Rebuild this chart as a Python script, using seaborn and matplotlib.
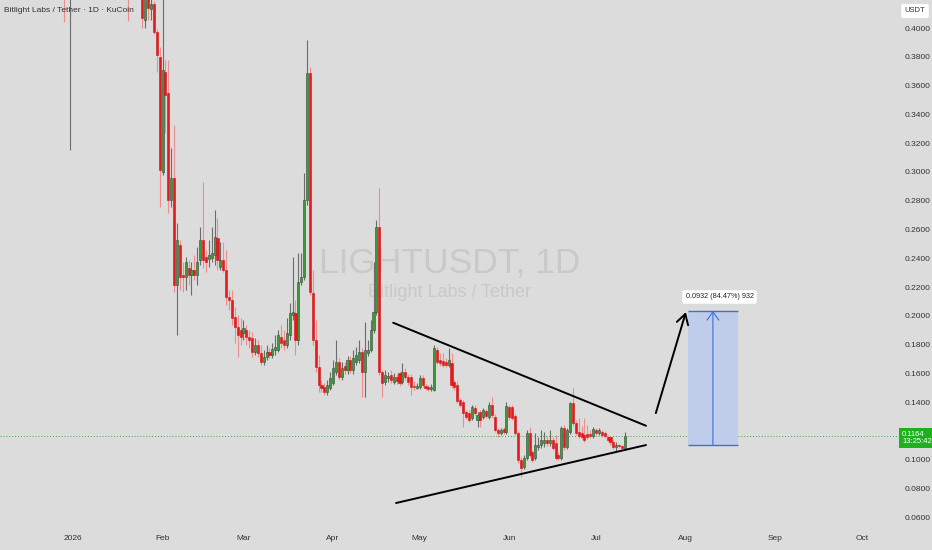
import numpy as np
import pandas as pd
import matplotlib
matplotlib.use("Agg")
import matplotlib.pyplot as plt
import seaborn as sns
from matplotlib.patches import Rectangle

# ── colours ───────────────────────────────────────────────────────────────────
BG = "#dcdcdc"
UP, UP_EDGE, UP_WICK = "#3b9b3b", "#345034", "#6c6c6c"
DN, DN_EDGE, DN_WICK = "#e8191c", "#d21214", "#f08c8c"
BLUE = "#3d6fd8"

# ── data (days counted from 2026-01-01, prices in USDT) ───────────────────────
# a few early candles whose bodies sit above the visible range
early_day = [-3, -1, 19]
early_open = [0.460, 0.430, 0.470]
early_high = [0.480, 0.600, 0.490]
early_low = [0.404, 0.315, 0.405]
early_close = [0.440, 0.470, 0.440]

first_day = 24  # 2026-01-25, daily candles from here on
open_ = [
    0.4400, 0.4056, 0.4280, 0.4132, 0.4167, 0.3973, 0.3799, 0.3000, 0.3695, 0.3549,
    0.2805, 0.2958, 0.2214, 0.2492, 0.2284, 0.2270, 0.2332, 0.2284, 0.2318, 0.2284,
    0.2388, 0.2527, 0.2409, 0.2395, 0.2402, 0.2423, 0.2541, 0.2339, 0.2388, 0.2318,
    0.2131, 0.2110, 0.1992, 0.1922, 0.1902, 0.1881, 0.1902, 0.1853, 0.1846, 0.1749,
    0.1797, 0.1742, 0.1679, 0.1714, 0.1749, 0.1728, 0.1763, 0.1763, 0.1853, 0.1832,
    0.1797, 0.1867, 0.2006, 0.2020, 0.1832, 0.2235, 0.2270, 0.2805, 0.3688, 0.2159,
    0.1832, 0.1644, 0.1520, 0.1506, 0.1471, 0.1499, 0.1533, 0.1610, 0.1679, 0.1575,
    0.1651, 0.1624, 0.1693, 0.1624, 0.1679, 0.1693, 0.1749, 0.1610, 0.1742, 0.1763,
    0.1902, 0.2027, 0.2617, 0.1610, 0.1540, 0.1568, 0.1589, 0.1540, 0.1575, 0.1603,
    0.1540, 0.1610, 0.1575, 0.1575, 0.1513, 0.1499, 0.1506, 0.1568, 0.1513, 0.1506,
    0.1492, 0.1485, 0.1763, 0.1693, 0.1686, 0.1679, 0.1658, 0.1672, 0.1540, 0.1520,
    0.1415, 0.1401, 0.1332, 0.1325, 0.1290, 0.1359, 0.1276, 0.1332, 0.1297, 0.1339,
    0.1297, 0.1380, 0.1297, 0.1206, 0.1186, 0.1213, 0.1193, 0.1366, 0.1366, 0.1304,
    0.1186, 0.0998, 0.0949, 0.1012, 0.1186, 0.1054, 0.1012, 0.1088, 0.1102, 0.1116,
    0.1137, 0.1116, 0.1137, 0.1116, 0.1033, 0.1012, 0.1220, 0.1088, 0.1193, 0.1394,
    0.1255, 0.1193, 0.1186, 0.1172, 0.1179, 0.1179, 0.1165, 0.1206, 0.1186, 0.1193,
    0.1186, 0.1158, 0.1158, 0.1123, 0.1088, 0.1102, 0.1095, 0.1081,
]
high = [
    0.4520, 0.4350, 0.4320, 0.4200, 0.4190, 0.3990, 0.3868, 0.4500, 0.3778, 0.3778,
    0.3166, 0.3326, 0.2645, 0.2527, 0.2374, 0.2409, 0.2388, 0.2374, 0.2423, 0.2478,
    0.2617, 0.2930, 0.2458, 0.2527, 0.2617, 0.2736, 0.2680, 0.2513, 0.2513, 0.2458,
    0.2180, 0.2180, 0.2061, 0.2006, 0.1985, 0.1971, 0.1936, 0.1902, 0.1888, 0.1846,
    0.1832, 0.1797, 0.1763, 0.1797, 0.1776, 0.1811, 0.1867, 0.1902, 0.1936, 0.1902,
    0.1985, 0.2089, 0.2409, 0.2110, 0.2437, 0.2437, 0.2993, 0.3917, 0.3729, 0.2318,
    0.1971, 0.1728, 0.1554, 0.1533, 0.1554, 0.1610, 0.1693, 0.1832, 0.1707, 0.1679,
    0.1679, 0.1721, 0.1721, 0.1763, 0.1783, 0.1832, 0.1776, 0.1957, 0.1832, 0.1971,
    0.2374, 0.2666, 0.2888, 0.1624, 0.1624, 0.1610, 0.1624, 0.1603, 0.1596, 0.1617,
    0.1672, 0.1637, 0.1596, 0.1596, 0.1547, 0.1533, 0.1589, 0.1589, 0.1527, 0.1520,
    0.1527, 0.1797, 0.1783, 0.1742, 0.1742, 0.1707, 0.1776, 0.1742, 0.1554, 0.1547,
    0.1429, 0.1415, 0.1345, 0.1345, 0.1380, 0.1380, 0.1332, 0.1345, 0.1359, 0.1352,
    0.1401, 0.1436, 0.1318, 0.1220, 0.1220, 0.1227, 0.1401, 0.1380, 0.1380, 0.1318,
    0.1200, 0.1019, 0.1033, 0.1206, 0.1227, 0.1068, 0.1186, 0.1158, 0.1206, 0.1193,
    0.1165, 0.1206, 0.1158, 0.1172, 0.1054, 0.1234, 0.1241, 0.1220, 0.1401, 0.1499,
    0.1276, 0.1290, 0.1234, 0.1290, 0.1241, 0.1206, 0.1227, 0.1220, 0.1220, 0.1206,
    0.1200, 0.1172, 0.1165, 0.1137, 0.1123, 0.1109, 0.1102, 0.1193,
]
low = [
    0.4000, 0.4000, 0.4056, 0.4056, 0.3960, 0.3695, 0.2756, 0.2979, 0.3271, 0.2715,
    0.2756, 0.2166, 0.1867, 0.2180, 0.2166, 0.2180, 0.2214, 0.2145, 0.2249, 0.2214,
    0.2353, 0.2332, 0.2305, 0.2339, 0.2374, 0.2353, 0.2318, 0.2318, 0.2305, 0.2075,
    0.2041, 0.1936, 0.1811, 0.1714, 0.1797, 0.1832, 0.1797, 0.1776, 0.1714, 0.1728,
    0.1714, 0.1658, 0.1658, 0.1693, 0.1707, 0.1707, 0.1728, 0.1749, 0.1776, 0.1763,
    0.1776, 0.1832, 0.1971, 0.1728, 0.1797, 0.2214, 0.2249, 0.2770, 0.2145, 0.1797,
    0.1610, 0.1471, 0.1471, 0.1450, 0.1450, 0.1485, 0.1520, 0.1589, 0.1554, 0.1554,
    0.1596, 0.1596, 0.1603, 0.1596, 0.1658, 0.1672, 0.1436, 0.1436, 0.1721, 0.1749,
    0.1881, 0.2006, 0.1589, 0.1436, 0.1520, 0.1540, 0.1533, 0.1527, 0.1527, 0.1513,
    0.1527, 0.1554, 0.1520, 0.1450, 0.1485, 0.1492, 0.1492, 0.1506, 0.1485, 0.1478,
    0.1478, 0.1478, 0.1665, 0.1651, 0.1644, 0.1644, 0.1644, 0.1499, 0.1485, 0.1394,
    0.1366, 0.1227, 0.1283, 0.1262, 0.1276, 0.1311, 0.1227, 0.1227, 0.1283, 0.1290,
    0.1283, 0.1290, 0.1193, 0.1158, 0.1172, 0.1179, 0.1179, 0.1276, 0.1276, 0.1172,
    0.0977, 0.0880, 0.0935, 0.0998, 0.1019, 0.0984, 0.0998, 0.1068, 0.1081, 0.1088,
    0.1095, 0.1095, 0.1068, 0.0998, 0.0998, 0.0998, 0.1068, 0.1074, 0.1179, 0.1234,
    0.1172, 0.1151, 0.1144, 0.1123, 0.1144, 0.1151, 0.1151, 0.1172, 0.1172, 0.1158,
    0.1151, 0.1123, 0.1102, 0.1074, 0.1054, 0.1081, 0.1074, 0.1074,
]
close = [
    0.4070, 0.4280, 0.4139, 0.4167, 0.3973, 0.3813, 0.3014, 0.3709, 0.3535, 0.2805,
    0.2958, 0.2214, 0.2527, 0.2270, 0.2270, 0.2374, 0.2284, 0.2318, 0.2284, 0.2374,
    0.2527, 0.2388, 0.2374, 0.2423, 0.2437, 0.2548, 0.2388, 0.2388, 0.2318, 0.2131,
    0.2110, 0.1985, 0.1922, 0.1867, 0.1853, 0.1915, 0.1853, 0.1832, 0.1749, 0.1797,
    0.1742, 0.1679, 0.1714, 0.1749, 0.1728, 0.1770, 0.1783, 0.1867, 0.1811, 0.1797,
    0.1881, 0.2020, 0.2027, 0.1832, 0.2235, 0.2270, 0.2805, 0.3688, 0.2166, 0.1832,
    0.1644, 0.1520, 0.1499, 0.1471, 0.1520, 0.1568, 0.1637, 0.1679, 0.1575, 0.1637,
    0.1624, 0.1693, 0.1624, 0.1707, 0.1728, 0.1749, 0.1610, 0.1763, 0.1763, 0.1902,
    0.2027, 0.2617, 0.1610, 0.1533, 0.1589, 0.1582, 0.1554, 0.1575, 0.1547, 0.1533,
    0.1610, 0.1575, 0.1540, 0.1506, 0.1506, 0.1513, 0.1568, 0.1520, 0.1499, 0.1492,
    0.1506, 0.1776, 0.1679, 0.1672, 0.1658, 0.1658, 0.1693, 0.1520, 0.1506, 0.1408,
    0.1380, 0.1325, 0.1297, 0.1276, 0.1366, 0.1325, 0.1311, 0.1276, 0.1345, 0.1304,
    0.1380, 0.1311, 0.1206, 0.1186, 0.1206, 0.1193, 0.1373, 0.1297, 0.1290, 0.1186,
    0.0998, 0.0942, 0.1012, 0.1186, 0.1033, 0.0998, 0.1102, 0.1102, 0.1137, 0.1137,
    0.1116, 0.1137, 0.1081, 0.1012, 0.1012, 0.1220, 0.1088, 0.1206, 0.1394, 0.1255,
    0.1186, 0.1165, 0.1158, 0.1137, 0.1158, 0.1165, 0.1213, 0.1186, 0.1206, 0.1172,
    0.1165, 0.1137, 0.1123, 0.1088, 0.1102, 0.1095, 0.1081, 0.1164,
]

last_price = 0.1164
countdown = "13:25:42"

# drawing: triangle, projection arrow and measured target
upper_x, upper_y = [110.8, 198.3], [0.1952, 0.1236]
lower_x, lower_y = [111.8, 198.3], [0.0699, 0.1102]
arrow_from, arrow_to = (201.7, 0.1324), (212.1, 0.2026)
target_x = [212.8, 230.1]
target_low, target_high = 0.1103, 0.2035
target_label = "0.0932 (84.47%) 932"

y_ticks = [0.06, 0.08, 0.10, 0.12, 0.14, 0.16, 0.18, 0.20, 0.22, 0.24,
           0.26, 0.28, 0.30, 0.32, 0.34, 0.36, 0.38, 0.40]
month_labels = ["2026", "Feb", "Mar", "Apr", "May", "Jun", "Jul", "Aug", "Sep", "Oct"]
month_starts = pd.date_range("2026-01-01", periods=10, freq="MS")

# ── frame ─────────────────────────────────────────────────────────────────────
df = pd.DataFrame({
    "day": early_day + list(range(first_day, first_day + len(open_))),
    "open": early_open + open_,
    "high": early_high + high,
    "low": early_low + low,
    "close": early_close + close,
})
df["up"] = df["close"] >= df["open"]

sns.set_theme(style="white", rc={"axes.facecolor": BG, "figure.facecolor": BG})
plt.rcParams["font.family"] = ["Liberation Sans", "DejaVu Sans"]

fig = plt.figure(figsize=(9.32, 5.5), dpi=100)
ax = fig.add_axes([0, 22 / 550, 900 / 932, 528 / 550])

# ── candles ───────────────────────────────────────────────────────────────────
wick_col = np.where(df["up"], UP_WICK, DN_WICK)
ax.vlines(df["day"], df["low"], df["high"], colors=wick_col, lw=0.8, zorder=2)

body_lo = df[["open", "close"]].min(axis=1)
body_h = np.maximum((df["close"] - df["open"]).abs(), 0.0008)
ax.bar(df["day"], body_h, bottom=body_lo, width=0.72,
       color=np.where(df["up"], UP, DN),
       edgecolor=np.where(df["up"], UP_EDGE, DN_EDGE), linewidth=0.4, zorder=3)

# ── price line ────────────────────────────────────────────────────────────────
ax.axhline(last_price, color="#4c9e58", lw=0.7, ls=(0, (1, 2)), zorder=1)

# ── triangle + projection ─────────────────────────────────────────────────────
sns.lineplot(x=upper_x, y=upper_y, ax=ax, color="black", lw=1.4, zorder=5)
sns.lineplot(x=lower_x, y=lower_y, ax=ax, color="black", lw=1.4, zorder=5)
ax.annotate("", xy=arrow_to, xytext=arrow_from,
            arrowprops=dict(arrowstyle="->,head_length=0.6,head_width=0.35",
                            color="black", lw=1.4, shrinkA=0, shrinkB=0), zorder=6)

ax.add_patch(Rectangle((target_x[0], target_low), target_x[1] - target_x[0],
                       target_high - target_low, fc="#c0cdea", ec="none", zorder=4))
ax.hlines([target_low, target_high], target_x[0], target_x[1], color=BLUE, lw=1.0, zorder=5)
mid = (target_x[0] + target_x[1]) / 2
ax.annotate("", xy=(mid, target_high), xytext=(mid, target_low),
            arrowprops=dict(arrowstyle="->,head_length=0.5,head_width=0.35",
                            color=BLUE, lw=0.8, shrinkA=0, shrinkB=0), zorder=6)
ax.text(mid + 2.3, target_high + 0.0096, target_label, ha="center", va="center",
        fontsize=5.2, color="#222222", zorder=7,
        bbox=dict(boxstyle="round,pad=0.45,rounding_size=0.3", fc="white", ec="none"))

# ── watermark ─────────────────────────────────────────────────────────────────
ax.text(130.4, 0.2367, "LIGHTUSDT, 1D", ha="center", va="center",
        fontsize=25.5, color="#c9c9c9", zorder=0)
ax.text(130.4, 0.2159, "Bitlight Labs / Tether", ha="center", va="center",
        fontsize=13, color="#c9c9c9", zorder=0)

# ── axes ──────────────────────────────────────────────────────────────────────
ax.set_xlim(-25.26, 286.2)
ax.set_ylim(0.4195 - 0.000695 * 528, 0.4195)
ax.yaxis.tick_right()
ax.set_yticks(y_ticks)
ax.set_yticklabels([f"{t:.4f}" for t in y_ticks])
month_days = [(m - pd.Timestamp("2026-01-01")).days for m in month_starts]
ax.set_xticks(month_days)
ax.set_xticklabels(month_labels)
ax.tick_params(axis="y", length=0, pad=3, labelsize=6, labelcolor="#333333")
ax.tick_params(axis="x", length=0, pad=5, labelsize=6, labelcolor="#333333")
ax.grid(False)
sns.despine(ax=ax, left=True, bottom=True)
ax.spines["right"].set_visible(False)

fig.text(4 / 932, 1 - 10 / 550, "Bitlight Labs / Tether · 1D · KuCoin",
         ha="left", va="center", fontsize=6, color="#333333")
fig.text(915 / 932, 1 - 11 / 550, "USDT", ha="center", va="center", fontsize=5.5,
         color="#333333",
         bbox=dict(boxstyle="round,pad=0.45,rounding_size=0.2", fc="white", ec="none"))
fig.text(902 / 932, 1 - 438 / 550, f"{last_price:.4f}\n{countdown}", ha="left",
         va="center", fontsize=5.5, color="white", linespacing=1.15,
         bbox=dict(boxstyle="square,pad=0.35", fc="#1db21d", ec="none"))

fig.savefig("out.png", dpi=100)
